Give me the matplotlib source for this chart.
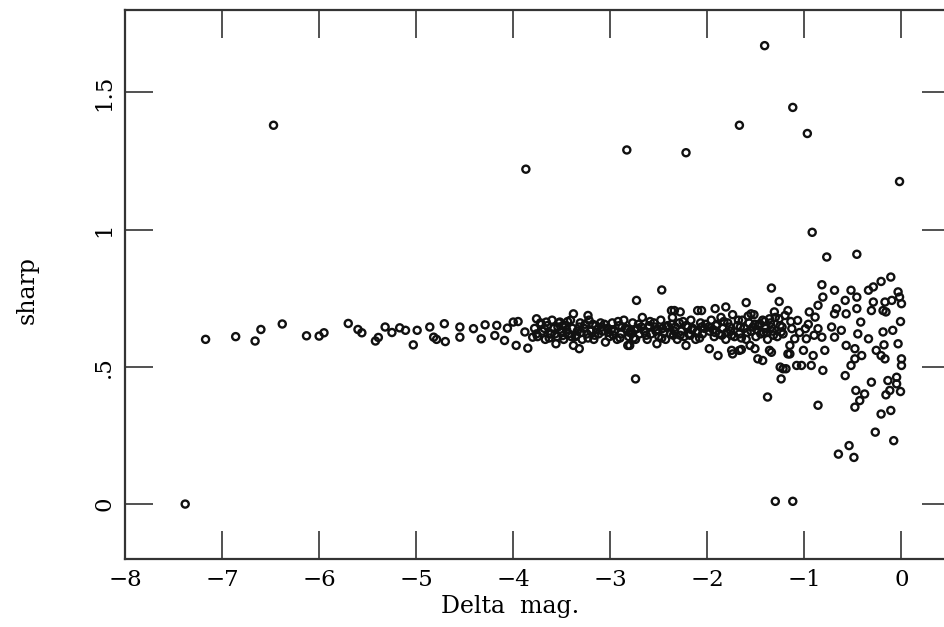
import numpy as np
import matplotlib.pyplot as plt

# Data: delta mag vs sharp

# isolated points well away from the main band
outlier_x = [-7.38, -6.47, -3.87, -2.83, -2.22, -1.41, -1.12, -1.67, -0.97, -0.02,
             -0.92, -0.46, -0.77, -1.30, -1.12, -2.74, -1.38, -0.86, -2.47]
outlier_y = [0.00, 1.38, 1.22, 1.29, 1.28, 1.67, 1.445, 1.38, 1.35, 1.175,
             0.99, 0.91, 0.90, 0.01, 0.01, 0.456, 0.39, 0.36, 0.78]

# sparse tail on the bright side
tail_x = [-7.17, -6.86, -6.66, -6.60, -6.38, -6.13, -6.00, -5.95, -5.70, -5.60,
          -5.56, -5.42, -5.39, -5.32, -5.25, -5.17, -5.11, -5.03, -4.99, -4.86,
          -4.82, -4.79, -4.71, -4.70, -4.55, -4.55, -4.41, -4.33, -4.29, -4.17,
          -4.19, -4.09, -4.06, -4.00, -3.95, -3.97, -3.88, -3.85, -3.80]
tail_y = [0.600, 0.610, 0.594, 0.636, 0.656, 0.613, 0.612, 0.624, 0.658, 0.636,
          0.624, 0.594, 0.607, 0.645, 0.625, 0.642, 0.633, 0.580, 0.633, 0.645,
          0.608, 0.600, 0.657, 0.592, 0.645, 0.608, 0.639, 0.602, 0.653, 0.651,
          0.614, 0.596, 0.641, 0.663, 0.665, 0.578, 0.627, 0.568, 0.608]

# dense band between -3.8 and -0.9
band_x = [-3.78, -3.75, -3.72, -3.70, -3.67, -3.65, -3.62, -3.60, -3.58, -3.55,
          -3.53, -3.50, -3.48, -3.46, -3.43, -3.41, -3.39, -3.36, -3.34, -3.31,
          -3.29, -3.27, -3.24, -3.22, -3.20, -3.17, -3.15, -3.12, -3.10, -3.08,
          -3.05, -3.03, -3.01,
          -2.98, -2.96, -2.93, -2.91, -2.89, -2.86, -2.84, -2.81, -2.79, -2.77,
          -2.74, -2.72, -2.70, -2.67, -2.65, -2.62, -2.60, -2.58, -2.55, -2.53,
          -2.50, -2.48, -2.46, -2.43, -2.41, -2.38, -2.36, -2.34, -2.31, -2.29,
          -2.27, -2.24, -2.22, -2.19, -2.17, -2.15, -2.12, -2.10, -2.07, -2.05,
          -2.03,
          -1.98, -1.96, -1.93, -1.91, -1.88, -1.86, -1.84, -1.81, -1.79, -1.76,
          -1.74, -1.72, -1.69, -1.67, -1.64, -1.62, -1.60, -1.57, -1.55, -1.52,
          -1.50, -1.48, -1.45, -1.43, -1.40, -1.38, -1.35, -1.33, -1.30, -1.28,
          -1.25, -1.22,
          -3.76, -3.68, -3.57, -3.49, -3.40, -3.32, -3.23, -3.14, -3.06, -2.97,
          -2.88, -2.80, -2.71, -2.63, -2.54, -2.45, -2.37, -2.28, -2.20, -2.11,
          -2.02, -1.94, -1.85, -1.77, -1.68, -1.59, -1.51, -1.42, -1.34, -1.26,
          -3.45, -3.30, -3.18, -3.02, -2.90, -2.75, -2.60, -2.47, -2.33, -2.18,
          -2.06, -1.90, -1.80, -1.65, -1.53, -1.39,
          -3.71, -3.63, -3.54, -3.44, -3.35, -3.26, -3.16, -3.09, -2.99, -2.92,
          -2.83, -2.76, -2.68, -2.59, -2.51, -2.42, -2.35, -2.25, -2.16, -2.08,
          -1.99, -1.92, -1.83, -1.75, -1.66, -1.58, -1.49, -1.41, -1.32, -1.23,
          -1.14, -1.05, -0.96, -0.90]
band_y = [0.64, 0.61, 0.66, 0.63, 0.60, 0.65, 0.62, 0.67, 0.64, 0.61,
          0.66, 0.63, 0.60, 0.65, 0.62, 0.67, 0.64, 0.61, 0.63, 0.66,
          0.60, 0.64, 0.62, 0.67, 0.63, 0.60, 0.65, 0.62, 0.66, 0.63,
          0.59, 0.64, 0.61,
          0.66, 0.63, 0.60, 0.65, 0.62, 0.67, 0.64, 0.61, 0.63, 0.66,
          0.60, 0.64, 0.62, 0.68, 0.63, 0.60, 0.65, 0.62, 0.66, 0.63,
          0.61, 0.67, 0.64, 0.60, 0.65, 0.62, 0.68, 0.63, 0.60, 0.66,
          0.63, 0.61, 0.65, 0.62, 0.67, 0.64, 0.60, 0.63, 0.66, 0.62,
          0.64,
          0.63, 0.67, 0.61, 0.65, 0.62, 0.68, 0.64, 0.60, 0.66, 0.63,
          0.69, 0.61, 0.65, 0.62, 0.67, 0.64, 0.60, 0.66, 0.63, 0.69,
          0.61, 0.65, 0.62, 0.67, 0.64, 0.60, 0.66, 0.63, 0.68, 0.61,
          0.65, 0.62,
          0.62, 0.64, 0.62, 0.65, 0.61, 0.645, 0.605, 0.635, 0.655, 0.615,
          0.645, 0.625, 0.655, 0.615, 0.645, 0.625, 0.655, 0.615, 0.645, 0.625,
          0.655, 0.635, 0.615, 0.645, 0.67, 0.625, 0.655, 0.625, 0.645, 0.675,
          0.635, 0.625, 0.655, 0.625, 0.605, 0.635, 0.645, 0.605, 0.645, 0.615,
          0.645, 0.655, 0.625, 0.605, 0.645, 0.625,
          0.655, 0.605, 0.645, 0.665, 0.615, 0.655, 0.615, 0.645, 0.635, 0.665,
          0.635, 0.605, 0.645, 0.665, 0.635, 0.645, 0.615, 0.665, 0.635, 0.605,
          0.645, 0.625, 0.665, 0.615, 0.645, 0.685, 0.635, 0.665, 0.615, 0.645,
          0.665, 0.625, 0.655, 0.615]

# scattered points around the band edges
edge_x = [-3.76, -3.66, -3.61, -3.49, -3.52, -3.56, -3.38, -3.32, -3.38, -3.23,
          -2.73, -2.80, -2.34, -2.28, -2.10, -2.82, -2.52, -2.22, -1.60, -1.26,
          -1.92, -1.81, -2.06, -1.55, -1.31, -1.20, -1.36, -1.46, -1.98, -1.89,
          -1.75, -1.65, -1.56, -1.48, -1.43, -1.36, -1.25, -1.24, -1.17, -1.34,
          -1.24, -1.34, -1.22, -1.08, -1.51, -1.15, -1.74, -1.67, -2.37]
edge_y = [0.675, 0.663, 0.620, 0.614, 0.663, 0.584, 0.578, 0.566, 0.693, 0.687,
          0.742, 0.578, 0.705, 0.700, 0.705, 0.578, 0.584, 0.578, 0.734, 0.738,
          0.712, 0.718, 0.705, 0.693, 0.700, 0.687, 0.675, 0.657, 0.566, 0.541,
          0.560, 0.563, 0.578, 0.529, 0.523, 0.560, 0.499, 0.456, 0.547, 0.787,
          0.627, 0.553, 0.493, 0.505, 0.566, 0.578, 0.547, 0.560, 0.705]

# the fan near zero
fan_x = [-0.82, -0.69, -0.81, -0.52, -0.58, -0.46, -0.34, -0.29, -0.21, -0.11,
         -0.035, -0.02, -0.17, -0.29, -0.10, 0.00, -0.67, -0.69, -0.57, -0.46,
         -0.31, -0.19, -0.16, -0.42, -0.01, -0.45, -0.34, -0.19, -0.09, -0.57,
         -0.48, -0.41, -0.52, -0.48, -0.26, -0.21, -0.17, -0.18, -0.035, 0.00,
         0.00, -0.58, -0.31, -0.14, -0.05, -0.05, -0.12, -0.01, -0.16, -0.47,
         -0.38, -0.43, -0.48, -0.21, -0.11, -0.27, -0.08, -0.54, -0.65, -0.49,
         -1.17, -1.07, -0.95, -0.89, -1.13, -0.99, -0.86, -0.72, -0.62, -1.10,
         -0.98, -0.82, -0.69, -1.15, -1.01, -0.91, -0.79, -1.03, -0.93, -0.81,
         -1.19, -0.86]
fan_y = [0.799, 0.779, 0.754, 0.779, 0.742, 0.754, 0.779, 0.791, 0.811, 0.827,
         0.773, 0.754, 0.736, 0.736, 0.742, 0.730, 0.712, 0.693, 0.693, 0.712,
         0.705, 0.705, 0.700, 0.663, 0.665, 0.620, 0.602, 0.627, 0.633, 0.578,
         0.566, 0.541, 0.505, 0.529, 0.560, 0.541, 0.529, 0.580, 0.584, 0.529,
         0.505, 0.468, 0.444, 0.450, 0.462, 0.438, 0.414, 0.410, 0.398, 0.414,
         0.401, 0.377, 0.353, 0.328, 0.341, 0.262, 0.231, 0.213, 0.182, 0.170,
         0.705, 0.669, 0.700, 0.681, 0.639, 0.639, 0.639, 0.645, 0.633, 0.602,
         0.602, 0.608, 0.608, 0.547, 0.560, 0.541, 0.560, 0.505, 0.505, 0.487,
         0.493, 0.724]

x_ticks = [-8, -7, -6, -5, -4, -3, -2, -1, 0]
x_tick_labels = ['\u22128', '\u22127', '\u22126', '\u22125', '\u22124',
                 '\u22123', '\u22122', '\u22121', '0']
y_ticks = [0, 0.5, 1, 1.5]
y_tick_labels = ['0', '.5', '1', '1.5']

plt.rcParams['font.family'] = ['DejaVu Serif']

fig = plt.figure(figsize=(9.45, 6.27), dpi=100)
# axes runs slightly past the right edge, as in the scan
ax = fig.add_axes([0.1323, 0.1085, 0.873, 0.8756])

all_x = np.concatenate([outlier_x, tail_x, band_x, edge_x, fan_x])
all_y = np.concatenate([outlier_y, tail_y, band_y, edge_y, fan_y])
ax.scatter(all_x, all_y, s=26, facecolors='none', edgecolors='#111111',
           linewidths=1.7, clip_on=False)

ax.set_xlim(-8, 0.5)
ax.set_ylim(-0.2, 1.8)

ax.set_xticks(x_ticks)
ax.set_xticklabels(x_tick_labels)
ax.set_yticks(y_ticks)
ax.set_yticklabels(y_tick_labels, rotation=90, va='center')

ax.tick_params(direction='in', length=20, width=1.1, top=True, right=True,
               labelsize=16.5, pad=7, color='#222222')
for sp in ax.spines.values():
    sp.set_linewidth(1.6)
    sp.set_color('#333333')

ax.set_xlabel('Delta  mag.', fontsize=17, va='center')
ax.xaxis.set_label_coords(0.467, -0.087)
ax.set_ylabel('sharp', fontsize=17, va='center')
ax.yaxis.set_label_coords(-0.119, 0.49)

fig.savefig('out.png', dpi=100)
